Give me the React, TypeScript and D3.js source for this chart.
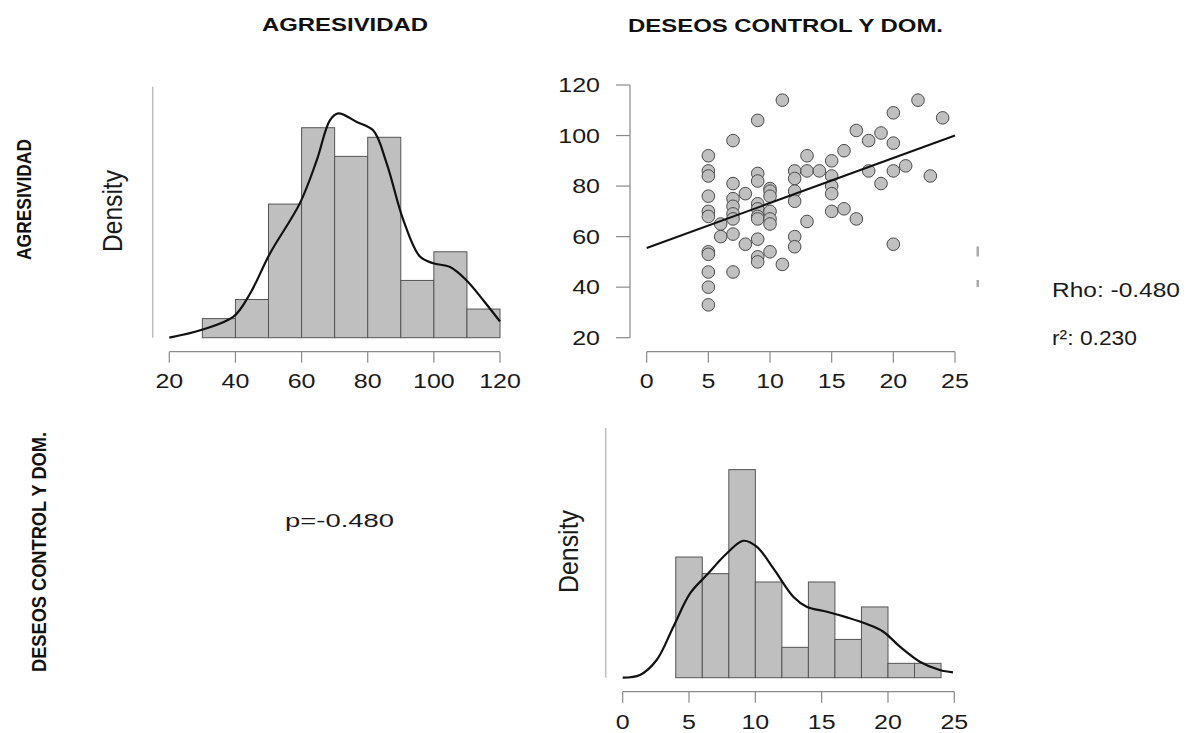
import React from "react";
import * as d3 from "d3";

// ---- Data ----
const agrBinEdges = [30, 40, 50, 60, 70, 80, 90, 100, 110, 120];
const agrDensity = [0.002, 0.004, 0.014, 0.022, 0.019, 0.021, 0.006, 0.009, 0.003];
const agrKdeX = [20, 29.6, 39.4, 44.4, 50.4, 59.5, 64.6, 68.6, 71.1, 76.7, 81.7, 85.7, 90.8, 95.8, 99.8, 104.9, 109.9, 115, 120];
const agrKdeY = [0, 0.0008, 0.0022, 0.0046, 0.0088, 0.0141, 0.0186, 0.0228, 0.0235, 0.0226, 0.0217, 0.0183, 0.0123, 0.0085, 0.0078, 0.0074, 0.006, 0.0039, 0.0017];

const desBinEdges = [4, 6, 8, 10, 12, 14, 16, 18, 20, 22, 24];
const desDensity = [0.058, 0.05, 0.1, 0.046, 0.0146, 0.046, 0.0184, 0.034, 0.0069, 0.0069];
const desKdeX = [0, 1.3, 2.56, 3.82, 5.08, 6.33, 7.84, 9.1, 10.1, 11.36, 12.86, 13.87, 15.4, 16.9, 18.4, 19.65, 20.9, 22.4, 23.9, 24.9];
const desKdeY = [0, 0.0013, 0.0085, 0.0245, 0.0405, 0.0493, 0.0597, 0.0658, 0.063, 0.0525, 0.0389, 0.0341, 0.0317, 0.029, 0.0258, 0.0221, 0.0149, 0.0077, 0.0037, 0.0026];

const scatterDes = [5, 5, 5, 5, 5, 5, 5, 5, 5, 5, 5, 6, 6, 7, 7, 7, 7, 7, 7, 7, 7, 8, 8, 9, 9, 9, 9, 9, 9, 9, 9, 9, 9, 10, 10, 10, 10, 10, 10, 10, 11, 11, 12, 12, 12, 12, 12, 12, 13, 13, 13, 14, 15, 15, 15, 15, 15, 16, 16, 17, 17, 18, 18, 19, 19, 20, 20, 20, 20, 21, 22, 23, 24];
const scatterAgr = [92, 86, 84, 76, 70, 68, 54, 53, 46, 40, 33, 65, 60, 98, 81, 75, 72, 69, 67, 61, 46, 77, 57, 106, 85, 82, 73, 71, 68, 67, 59, 52, 50, 79, 78, 76, 70, 67, 65, 54, 114, 49, 86, 83, 78, 74, 60, 56, 92, 86, 66, 86, 90, 84, 80, 77, 70, 94, 71, 102, 67, 98, 86, 101, 81, 109, 97, 86, 57, 88, 114, 84, 107];
const regIntercept = 55.5;
const regSlope = 1.78;

const agrTicks = [20, 40, 60, 80, 100, 120];
const scatterXTicks = [0, 5, 10, 15, 20, 25];
const scatterYTicks = [20, 40, 60, 80, 100, 120];
const desTicks = [0, 5, 10, 15, 20, 25];

const titleAgr = "AGRESIVIDAD";
const titleDes = "DESEOS CONTROL Y DOM.";
const corrText = "p=-0.480";
const rhoText = "Rho: -0.480";
const r2Text = "r²: 0.230";

// ---- Styles ----
const BAR_FILL = "#bfbfbf";
const BAR_STROKE = "#555555";
const AXIS = "#8a8a8a";
const TICK_FONT = "Liberation Sans, Arial, sans-serif";

const StretchText = ({ x, y, sx = 1.25, anchor = "middle", size = 20, children, fill = "#1a1a1a" }: any) => (
  <text
    transform={`translate(${x},${y}) scale(${sx},1)`}
    textAnchor={anchor}
    fontFamily={TICK_FONT}
    fontSize={size}
    fill={fill}
  >
    {children}
  </text>
);

export default function App() {
  // Top-left histogram
  const ax = d3.scaleLinear().domain([20, 120]).range([169.3, 500]);
  const ay = d3.scaleLinear().domain([0, 0.0263]).range([337.7, 86.7]);
  const agrLine = d3
    .line<number>()
    .x((_, i) => ax(agrKdeX[i]))
    .y((d) => ay(d))
    .curve(d3.curveCatmullRom.alpha(0.5));

  // Scatter
  const sx = d3.scaleLinear().domain([0, 25]).range([646.7, 955]);
  const sy = d3.scaleLinear().domain([20, 120]).range([337.7, 85]);

  // Bottom histogram
  const bx = d3.scaleLinear().domain([0, 25]).range([622.7, 954.3]);
  const by = d3.scaleLinear().domain([0, 0.12]).range([677.7, 428]);
  const desLine = d3
    .line<number>()
    .x((_, i) => bx(desKdeX[i]))
    .y((d) => by(d))
    .curve(d3.curveCatmullRom.alpha(0.5));

  const axisY1 = 351.7;
  const axisY2 = 691.7;

  return (
    <svg
      width={1200}
      height={733}
      style={{ position: "absolute", left: 0, top: 0, background: "#fff" }}
    >
      <rect x={0} y={0} width={1200} height={733} fill="#fff" />

      {/* Column titles */}
      <text x={262} y={31} fontFamily="Liberation Sans, Arial, sans-serif" fontWeight="bold" fontSize={18} textLength={166} lengthAdjust="spacingAndGlyphs" fill="#111">
        {titleAgr}
      </text>
      <text x={628} y={32} fontFamily="Liberation Sans, Arial, sans-serif" fontWeight="bold" fontSize={18} textLength={315} lengthAdjust="spacingAndGlyphs" fill="#111">
        {titleDes}
      </text>

      {/* Row labels */}
      <text
        transform="translate(31,260) rotate(-90)"
        fontFamily="Liberation Sans Narrow, Arial Narrow, sans-serif"
        fontWeight="bold"
        fontSize={20}
        textLength={121}
        lengthAdjust="spacingAndGlyphs"
        fill="#111"
      >
        {titleAgr}
      </text>
      <text
        transform="translate(46,672) rotate(-90)"
        fontFamily="Liberation Sans Narrow, Arial Narrow, sans-serif"
        fontWeight="bold"
        fontSize={21}
        textLength={240}
        lengthAdjust="spacingAndGlyphs"
        fill="#111"
      >
        {titleDes}
      </text>

      {/* ---- Top-left histogram ---- */}
      <line x1={152.7} x2={152.7} y1={ay(0.0263)} y2={ay(0)} stroke="#bdbdbd" strokeWidth={1.5} />
      <text
        transform="translate(122,252) rotate(-90)"
        fontFamily="Liberation Sans Narrow, Arial Narrow, sans-serif"
        fontSize={28}
        textLength={82}
        lengthAdjust="spacingAndGlyphs"
        fill="#1a1a1a"
      >
        Density
      </text>
      {agrDensity.map((d, i) => (
        <rect
          key={"a" + i}
          x={ax(agrBinEdges[i])}
          y={ay(d)}
          width={ax(agrBinEdges[i + 1]) - ax(agrBinEdges[i])}
          height={ay(0) - ay(d)}
          fill={BAR_FILL}
          stroke={BAR_STROKE}
          strokeWidth={1}
        />
      ))}
      <path d={agrLine(agrKdeY) || ""} fill="none" stroke="#111" strokeWidth={2.2} />
      <line x1={ax(20)} x2={ax(120)} y1={axisY1} y2={axisY1} stroke={AXIS} strokeWidth={1.2} />
      {agrTicks.map((t) => (
        <g key={"at" + t}>
          <line x1={ax(t)} x2={ax(t)} y1={axisY1} y2={axisY1 + 11} stroke={AXIS} strokeWidth={1.2} />
          <StretchText x={ax(t)} y={388}>{t}</StretchText>
        </g>
      ))}

      {/* ---- Scatter ---- */}
      <line x1={630} x2={630} y1={sy(120)} y2={sy(20)} stroke={AXIS} strokeWidth={1.2} />
      {scatterYTicks.map((t) => (
        <g key={"sy" + t}>
          <line x1={616} x2={630} y1={sy(t)} y2={sy(t)} stroke={AXIS} strokeWidth={1.2} />
          <StretchText x={600} y={sy(t) + 7} anchor="end">{t}</StretchText>
        </g>
      ))}
      <line x1={sx(0)} x2={sx(25)} y1={axisY1} y2={axisY1} stroke={AXIS} strokeWidth={1.2} />
      {scatterXTicks.map((t) => (
        <g key={"sx" + t}>
          <line x1={sx(t)} x2={sx(t)} y1={axisY1} y2={axisY1 + 11} stroke={AXIS} strokeWidth={1.2} />
          <StretchText x={sx(t)} y={388}>{t}</StretchText>
        </g>
      ))}
      {scatterDes.map((d, i) => (
        <circle
          key={"p" + i}
          cx={sx(d)}
          cy={sy(scatterAgr[i])}
          r={6.3}
          fill="#bdbdbd"
          stroke="#4a4a4a"
          strokeWidth={1}
          fillOpacity={0.95}
        />
      ))}
      <line
        x1={sx(0)}
        y1={sy(regIntercept)}
        x2={sx(25)}
        y2={sy(regIntercept + regSlope * 25)}
        stroke="#111"
        strokeWidth={2}
      />
      {/* small leftover marks at right */}
      <rect x={976.5} y={246.5} width={2.5} height={10} fill="#aaa" />
      <rect x={976.5} y={280} width={2.5} height={7} fill="#aaa" />

      {/* Stats text */}
      <text x={1052} y={297} fontFamily="Liberation Sans, Arial, sans-serif" fontSize={21} textLength={128} lengthAdjust="spacingAndGlyphs" fill="#1a1a1a">
        {rhoText}
      </text>
      <text x={1052} y={345} fontFamily="Liberation Sans, Arial, sans-serif" fontSize={21} textLength={85} lengthAdjust="spacingAndGlyphs" fill="#1a1a1a">
        {r2Text}
      </text>

      {/* Correlation text */}
      <text x={285} y={527} fontFamily="Liberation Sans, Arial, sans-serif" fontSize={19} textLength={109} lengthAdjust="spacingAndGlyphs" fill="#1a1a1a">
        {corrText}
      </text>

      {/* ---- Bottom histogram ---- */}
      <line x1={605.7} x2={605.7} y1={by(0.12)} y2={by(0)} stroke="#bdbdbd" strokeWidth={1.5} />
      <text
        transform="translate(578,593) rotate(-90)"
        fontFamily="Liberation Sans Narrow, Arial Narrow, sans-serif"
        fontSize={28}
        textLength={83}
        lengthAdjust="spacingAndGlyphs"
        fill="#1a1a1a"
      >
        Density
      </text>
      {desDensity.map((d, i) => (
        <rect
          key={"b" + i}
          x={bx(desBinEdges[i])}
          y={by(d)}
          width={bx(desBinEdges[i + 1]) - bx(desBinEdges[i])}
          height={by(0) - by(d)}
          fill={BAR_FILL}
          stroke={BAR_STROKE}
          strokeWidth={1}
        />
      ))}
      <path d={desLine(desKdeY) || ""} fill="none" stroke="#111" strokeWidth={2.2} />
      <line x1={bx(0)} x2={bx(25)} y1={axisY2} y2={axisY2} stroke={AXIS} strokeWidth={1.2} />
      {desTicks.map((t) => (
        <g key={"bt" + t}>
          <line x1={bx(t)} x2={bx(t)} y1={axisY2} y2={axisY2 + 11} stroke={AXIS} strokeWidth={1.2} />
          <StretchText x={bx(t)} y={729}>{t}</StretchText>
        </g>
      ))}
    </svg>
  );
}
